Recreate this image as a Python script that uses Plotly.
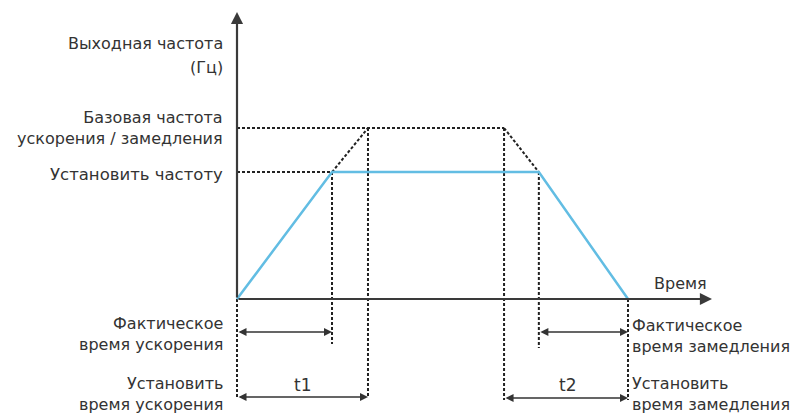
import plotly.graph_objects as go

# ---- data (schematic units: time in s, frequency in Hz) ----
t_acc_actual = 2.43      # actual acceleration time end
t_acc_set = 3.35         # set acceleration time t1 end
t_dec_start = 6.83       # start of set deceleration time t2
t_dec_actual = 7.72      # start of actual deceleration
t_stop = 10.0            # stop time
f_set = 37.1             # set frequency
f_base = 50.0            # base acc/dec frequency

out_t = [0, t_acc_actual, t_dec_actual, t_stop]
out_f = [0, f_set, f_set, 0]

# ---- layout helpers (pixel mapping for axis ranges) ----
PX_X0, PX_Y0 = 237, 299
SX, SY = 39.1, 3.42
OFF = 8  # page body margin
def ux(px):
    return (px - PX_X0) / SX
def uy(py):
    return (PX_Y0 - py) / SY

W, H = 802, 417
FONT = "DejaVu Sans, Liberation Sans, Arial, sans-serif"
TXT = "#333333"
DASH = dict(color="#222222", width=2, dash="3px,2px")

fig = go.Figure()

def dline(xs, ys):
    fig.add_trace(go.Scatter(x=xs, y=ys, mode="lines", line=DASH,
                             hoverinfo="skip", showlegend=False))

# dashed guide lines
dline([0, t_dec_start], [f_base, f_base])
dline([0, t_acc_actual], [f_set, f_set])
dline([t_acc_actual, t_acc_set], [f_set, f_base])
dline([t_dec_start, t_dec_actual], [f_base, f_set])
dline([t_acc_actual, t_acc_actual], [f_set, uy(344)])
dline([t_acc_set, t_acc_set], [f_base, uy(397)])
dline([0, 0], [0, uy(397)])
dline([t_dec_start, t_dec_start], [f_base, uy(400)])
dline([t_dec_actual, t_dec_actual], [f_set, uy(348)])
dline([t_stop, t_stop], [0, uy(400)])

# output frequency curve
fig.add_trace(go.Scatter(x=out_t, y=out_f, mode="lines",
                         line=dict(color="#62bde3", width=2.5),
                         hoverinfo="skip", showlegend=False))

ann = []
def arrow(x0, y0, x1, y1, both=False, width=1.6, size=1.0, color="#333333"):
    ann.append(dict(x=x1, y=y1, ax=x0, ay=y0, xref="x", yref="y",
                    axref="x", ayref="y", showarrow=True, arrowhead=2,
                    arrowsize=size, arrowwidth=width, arrowcolor=color,
                    arrowside="end+start" if both else "end",
                    standoff=0, startstandoff=0, text=""))

# axes
arrow(0, 0, 0, uy(12), width=2.2, size=1.1, color="#3a3a3a")
arrow(0, 0, ux(712), 0, width=2.2, size=1.1, color="#3a3a3a")

# dimension arrows
arrow(0, uy(332), t_acc_actual, uy(332), both=True)
arrow(0, uy(397), t_acc_set, uy(397), both=True)
arrow(t_dec_actual, uy(332), t_stop, uy(332), both=True)
arrow(t_dec_start, uy(398), t_stop, uy(398), both=True)

def label(text, px, py, anchor="right", size=16):
    ann.append(dict(x=ux(px), y=uy(py), xref="x", yref="y", text=text,
                    showarrow=False, xanchor=anchor, yanchor="middle",
                    align=anchor, borderpad=0,
                    font=dict(family=FONT, size=size, color=TXT)))

label("Выходная частота", 224, 43)
label("(Гц)", 224, 67)
label("Базовая частота<br>ускорения / замедления", 224, 128)
label("Установить частоту", 224, 174, size=16.5)
label("Фактическое<br>время ускорения", 224, 334)
label("Установить<br>время ускорения", 224, 394)
label("Время", 653, 283, anchor="left")
label("Фактическое<br>время замедления", 631, 336, anchor="left")
label("Установить<br>время замедления", 631, 394, anchor="left")
label("t1", 302, 385, anchor="center", size=17)
label("t2", 567, 385, anchor="center", size=17)

fig.update_layout(
    width=W, height=H, margin=dict(l=0, r=0, t=0, b=0),
    paper_bgcolor="white", plot_bgcolor="white",
    annotations=ann,
    xaxis=dict(range=[ux(OFF), ux(W + OFF)], visible=False, fixedrange=True),
    yaxis=dict(range=[uy(H + OFF), uy(OFF)], visible=False, fixedrange=True),
)

fig.write_html("out.html")
